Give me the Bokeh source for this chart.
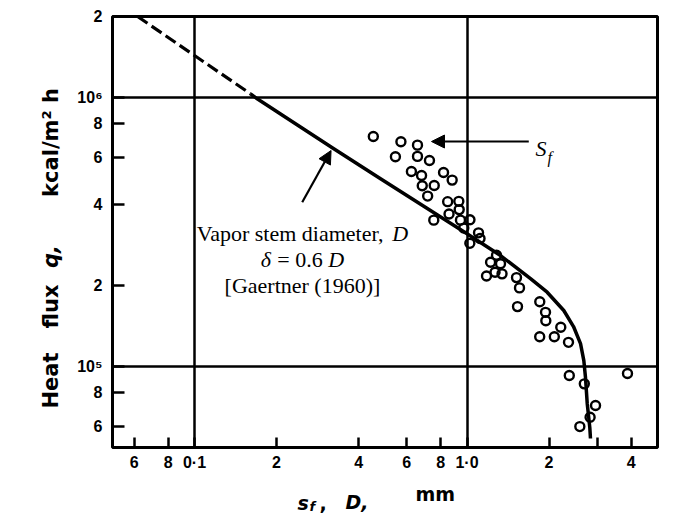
import math
from bokeh.plotting import figure
from bokeh.layouts import row, column
from bokeh.models import FixedTicker, Label, Arrow, NormalHead, Range1d
from bokeh.embed import file_html
from bokeh.resources import INLINE

# ---- data ----
# Vapor stem diameter D, extrapolated (dashed) part
stem_dash_x = [0.0618, 0.1, 0.1605]
stem_dash_y = [2.0e6, 1.432e6, 1.032e6]
# Vapor stem diameter D, solid part
stem_x = [0.1605, 0.1698, 0.3244, 0.4815, 1.0, 1.327, 1.71, 1.968, 2.265, 2.459,
          2.609, 2.683, 2.721, 2.761, 2.822, 2.838]
stem_y = [1.032e6, 9.89e5, 6.45e5, 4.985e5, 3.113e5, 2.585e5, 2.12e5, 1.889e5,
          1.615e5, 1.408e5, 1.217e5, 1.052e5, 9.1e4, 7.29e4, 5.93e4, 5.40e4]
# measured s_f (circles)
sf_x = [0.453, 0.572, 0.658, 0.546, 0.658, 0.728, 0.625, 0.681, 0.820, 0.882,
        0.685, 0.758, 0.717, 0.849, 0.933, 0.859, 0.936, 0.755, 0.946, 1.025,
        0.973, 1.102, 1.116, 1.024, 1.283, 1.220, 1.327, 1.179, 1.267, 1.344,
        1.519, 1.558, 1.532, 1.849, 1.941, 1.946, 1.848, 2.091, 2.208, 2.357,
        2.373, 2.694, 2.962, 2.829, 2.594, 3.88]
sf_y = [7.16e5, 6.85e5, 6.65e5, 6.02e5, 6.04e5, 5.83e5, 5.31e5, 5.13e5, 5.26e5, 4.93e5,
        4.70e5, 4.71e5, 4.30e5, 4.10e5, 4.11e5, 3.69e5, 3.83e5, 3.50e5, 3.50e5, 3.51e5,
        3.27e5, 3.14e5, 2.99e5, 2.87e5, 2.59e5, 2.44e5, 2.41e5, 2.17e5, 2.24e5, 2.21e5,
        2.14e5, 1.96e5, 1.67e5, 1.74e5, 1.59e5, 1.48e5, 1.29e5, 1.29e5, 1.40e5, 1.23e5,
        9.26e4, 8.62e4, 7.16e4, 6.48e4, 5.98e4, 9.42e4]

x_ticks = [0.06, 0.08, 0.1, 0.2, 0.4, 0.6, 0.8, 1.0, 2.0, 3.0, 4.0]
x_tick_labels = ["6", "8", "0\u00b71", "2", "4", "6", "8", "1\u00b70", "2", "", "4"]
y_ticks = [6e4, 8e4, 1e5, 2e5, 4e5, 6e5, 8e5, 1e6, 2e6]
y_tick_labels = ["6", "8", "10\u2075", "2", "4", "6", "8", "10\u2076", "2"]
x_grid = [0.1, 1.0]
y_grid = [1e5, 1e6]

fig = figure(width=630, height=480, x_axis_type="log", y_axis_type="log",
             x_range=Range1d(0.05, 5), y_range=Range1d(5e4, 2e6),
             output_backend="svg", toolbar_location=None,
             min_border_left=48, min_border_right=37,
             min_border_top=16, min_border_bottom=33)
fig.background_fill_color = "white"
fig.border_fill_color = "white"
fig.outline_line_color = "black"
fig.outline_line_width = 3
fig.outline_line_alpha = 1.0

for ax in (fig.xaxis[0], fig.yaxis[0]):
    ax.axis_line_color = None
    ax.major_tick_line_width = 2.5
    ax.major_tick_line_color = "black"
    ax.minor_tick_line_color = None
    ax.major_tick_out = 0
    ax.major_label_text_font = "Liberation Sans"
    ax.major_label_text_font_style = "bold"
    ax.major_label_text_font_size = "16px"
    ax.major_label_text_color = "black"

fig.xaxis.major_tick_in = 10
fig.yaxis.major_tick_in = 12
fig.xaxis.ticker = FixedTicker(ticks=x_ticks)
fig.yaxis.ticker = FixedTicker(ticks=y_ticks)
fig.xaxis.major_label_overrides = dict(zip(x_ticks, x_tick_labels))
fig.yaxis.major_label_overrides = dict(zip(y_ticks, y_tick_labels))
fig.xaxis.major_label_standoff = 6
fig.yaxis.major_label_standoff = 10

fig.xgrid.ticker = FixedTicker(ticks=x_grid)
fig.ygrid.ticker = FixedTicker(ticks=y_grid)
fig.grid.grid_line_color = "black"
fig.grid.grid_line_width = 2.5
fig.grid.grid_line_alpha = 1.0

fig.line(stem_dash_x, stem_dash_y, line_width=3.2, line_dash="12 5", line_color="black")
fig.line(stem_x, stem_y, line_width=3.5, line_color="black", line_join="round")
fig.scatter(sf_x, sf_y, marker="circle", size=9, line_width=2.4,
            line_color="black", fill_color=None)

# arrows
fig.add_layout(Arrow(end=NormalHead(size=13, fill_color="black", line_color="black"),
                     x_start=0.2484, y_start=4.08e5, x_end=0.317, y_end=6.35e5,
                     line_width=2.2, line_color="black"))
fig.add_layout(Arrow(end=NormalHead(size=13, fill_color="black", line_color="black"),
                     x_start=1.685, y_start=6.86e5, x_end=0.7406, y_end=6.86e5,
                     line_width=2.2, line_color="black"))


def lab(target, text, x, y, xo=0, yo=0, font="Liberation Serif", size="22px",
        style="normal", align="left", baseline="alphabetic", angle=0):
    target.add_layout(Label(text=text, x=x, y=y, x_offset=xo, y_offset=yo,
                            text_font=font, text_font_size=size, text_font_style=style,
                            text_align=align, text_baseline=baseline, angle=angle,
                            text_color="black"))


# annotation block
cx = 0.2489
lab(fig, "Vapor stem diameter,", cx, 3.121e5, xo=-105.7)
lab(fig, "D", cx, 3.121e5, xo=89.8, style="italic")
lab(fig, "\u03b4", cx, 2.499e5, xo=-41.6, style="italic")
lab(fig, "= 0.6", cx, 2.499e5, xo=-25.2)
lab(fig, "D", cx, 2.499e5, xo=25.8, style="italic")
lab(fig, "[Gaertner (1960)]", cx, 2.0e5, align="center")

# s_f annotation
lab(fig, "S", 1.784, 6.46e5, size="22px", style="italic")
lab(fig, "f", 1.784, 6.46e5, xo=12, yo=-9, size="16px", style="italic")


def blank(w, h, xr, yr, **borders):
    f = figure(width=w, height=h, x_range=Range1d(*xr), y_range=Range1d(*yr),
               output_backend="svg", toolbar_location=None,
               x_axis_location=None, y_axis_location=None, **borders)
    f.grid.visible = False
    f.outline_line_color = None
    f.background_fill_color = "white"
    f.border_fill_color = "white"
    return f


# y axis title strip: frame spans page rows 16..447
ylab = blank(64, 480, (0, 64), (33, 464), min_border_left=0, min_border_right=0,
             min_border_top=16, min_border_bottom=33)
ya = dict(font="DejaVu Sans", size="21px", style="bold", align="center",
          baseline="middle", angle=math.pi / 2)
lab(ylab, "Heat", 50, 100, **ya)
lab(ylab, "flux", 50, 174, **ya)
lab(ylab, "q,", 50, 224, **{**ya, "style": "bold italic"})
lab(ylab, "kcal/m\u00b2 h", 50, 338, **ya)

# x axis title strip: frame spans page columns 112..657
xlab = blank(694, 37, (112, 657), (0, 37), min_border_left=112, min_border_right=37,
             min_border_top=0, min_border_bottom=0)
xa = dict(font="DejaVu Sans", size="19px")
lab(xlab, "s", 297, 15, style="bold italic", **xa)
lab(xlab, "f", 309, 11, font="DejaVu Sans", size="13px", style="bold italic")
lab(xlab, ",", 319, 15, style="bold", **xa)
lab(xlab, "D,", 345, 16, style="bold italic", **xa)
lab(xlab, "mm", 415, 24, style="bold", **xa)

p = column(row(ylab, fig, spacing=0), xlab, spacing=0)

open("out.html", "w").write(file_html(p, INLINE))
